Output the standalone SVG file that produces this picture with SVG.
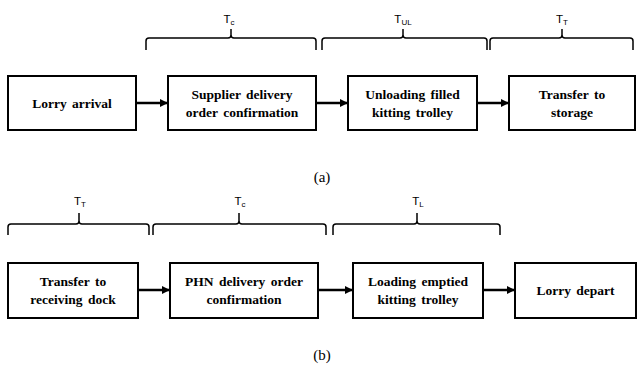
<svg xmlns="http://www.w3.org/2000/svg" width="641" height="370" viewBox="0 0 641 370">
<style>
.box{fill:#fff;stroke:#000;stroke-width:2}
.t{font-family:"Liberation Serif","Times New Roman",serif;font-weight:bold;font-size:13.5px;text-anchor:middle;fill:#000;word-spacing:2px}
.lbl{font-family:"Liberation Sans",Arial,sans-serif;font-size:11.5px;text-anchor:middle;fill:#000}
.sub{font-size:8px}
.brace{fill:none;stroke:#000;stroke-width:1.5}
.conn{stroke:#000;stroke-width:2.5;fill:none}
.cap{font-family:"Liberation Serif","Times New Roman",serif;font-size:15px;text-anchor:middle;fill:#000}
</style>
<defs>
<marker id="ah" markerWidth="8" markerHeight="8" refX="7" refY="4" orient="auto" markerUnits="userSpaceOnUse">
<path d="M0,0 L8,4 L0,8 Z" fill="#000"/>
</marker>
</defs>
<rect width="641" height="370" fill="#fff"/>

<g id="braces">
<path class="brace" d="M146,50 V41 Q146,38 149,38 H228 Q231,38 231,35 V29 V35 Q231,38 234,38 H313 Q316,38 316,41 V50"/>
<path class="brace" d="M322,50 V41 Q322,38 325,38 H400 Q403,38 403,35 V29 V35 Q403,38 406,38 H484 Q487,38 487,41 V50"/>
<path class="brace" d="M490,50 V41 Q490,38 493,38 H559 Q562,38 562,35 V29 V35 Q562,38 565,38 H630 Q633,38 633,41 V50"/>
<path class="brace" d="M8,235 V227 Q8,224 11,224 H76 Q79,224 79,221 V213 V221 Q79,224 82,224 H146 Q149,224 149,227 V235"/>
<path class="brace" d="M153,235 V227 Q153,224 156,224 H236 Q239,224 239,221 V213 V221 Q239,224 242,224 H323 Q326,224 326,227 V235"/>
<path class="brace" d="M333,235 V227 Q333,224 336,224 H414 Q417,224 417,221 V213 V221 Q417,224 420,224 H497 Q500,224 500,227 V235"/>
</g>

<g id="labels">
<text class="lbl" x="229" y="23">T<tspan class="sub" dy="2">c</tspan></text>
<text class="lbl" x="403" y="23">T<tspan class="sub" dy="2">UL</tspan></text>
<text class="lbl" x="562" y="23">T<tspan class="sub" dy="2">T</tspan></text>
<text class="lbl" x="80" y="205">T<tspan class="sub" dy="2">T</tspan></text>
<text class="lbl" x="240" y="205">T<tspan class="sub" dy="2">c</tspan></text>
<text class="lbl" x="418" y="205">T<tspan class="sub" dy="2">L</tspan></text>
</g>

<g id="connectors">
<line class="conn" x1="137" y1="103" x2="167" y2="103" marker-end="url(#ah)"/>
<line class="conn" x1="317" y1="103" x2="347" y2="103" marker-end="url(#ah)"/>
<line class="conn" x1="478" y1="103" x2="508" y2="103" marker-end="url(#ah)"/>
<line class="conn" x1="139" y1="290" x2="169" y2="290" marker-end="url(#ah)"/>
<line class="conn" x1="319" y1="290" x2="352" y2="290" marker-end="url(#ah)"/>
<line class="conn" x1="484" y1="290" x2="514" y2="290" marker-end="url(#ah)"/>
</g>

<g id="a1"><rect class="box" x="8" y="76" width="128" height="54"/><text class="t" x="72" y="108">Lorry arrival</text></g>
<g id="a2"><rect class="box" x="168" y="76" width="148" height="54"/><text class="t" x="242" y="99">Supplier delivery</text><text class="t" x="242" y="117">order confirmation</text></g>
<g id="a3"><rect class="box" x="348" y="76" width="129" height="54"/><text class="t" x="412.5" y="99">Unloading filled</text><text class="t" x="412.5" y="117">kitting trolley</text></g>
<g id="a4"><rect class="box" x="509" y="76" width="126" height="54"/><text class="t" x="572" y="99">Transfer to</text><text class="t" x="572" y="117">storage</text></g>

<text class="cap" x="322" y="182">(a)</text>

<g id="b1"><rect class="box" x="8" y="263" width="130" height="55"/><text class="t" x="73" y="286">Transfer to</text><text class="t" x="73" y="304">receiving dock</text></g>
<g id="b2"><rect class="box" x="170" y="263" width="148" height="55"/><text class="t" x="244" y="286">PHN delivery order</text><text class="t" x="244" y="304">confirmation</text></g>
<g id="b3"><rect class="box" x="353" y="263" width="130" height="55"/><text class="t" x="418" y="286">Loading emptied</text><text class="t" x="418" y="304">kitting trolley</text></g>
<g id="b4"><rect class="box" x="515" y="263" width="121" height="55"/><text class="t" x="575.5" y="295">Lorry depart</text></g>

<text class="cap" x="322" y="360">(b)</text>
</svg>
